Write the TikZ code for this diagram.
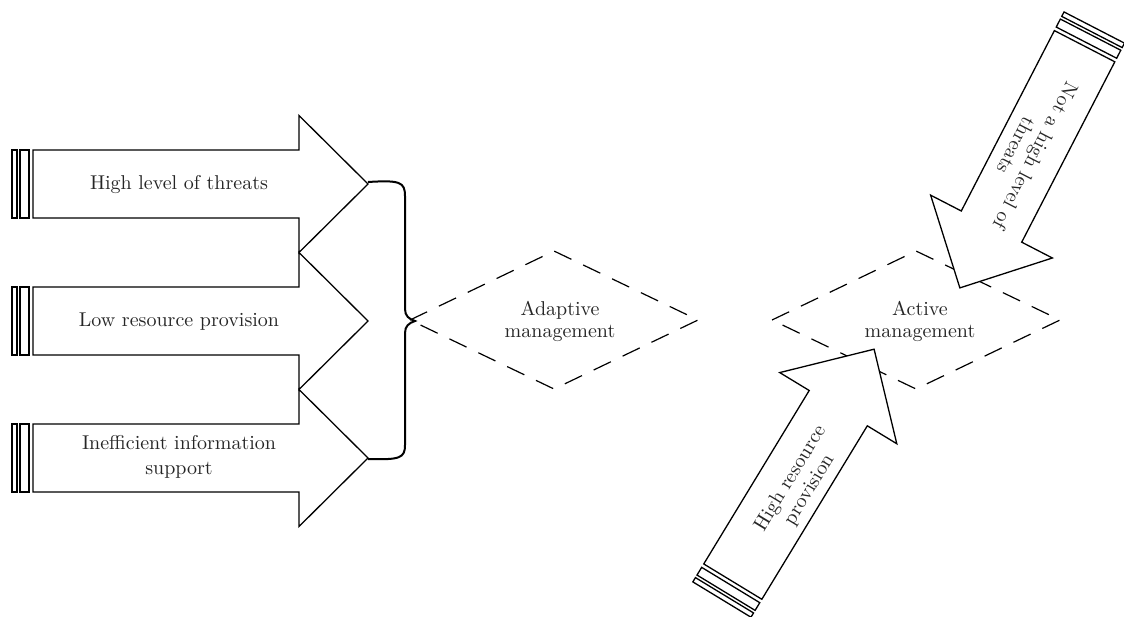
\documentclass[tikz,border=0pt]{standalone}
\begin{document}
\begin{tikzpicture}[x=0.5pt,y=-0.5pt,
  arrowline/.style={draw=black,fill=white,line width=0.65pt,line join=miter},
  dashdiamond/.style={draw=black,line width=0.6pt,dash pattern=on 9.5pt off 6.5pt},
  bracestyle/.style={draw=black,line width=1pt},
  lbl/.style={font=\fontsize{10}{11}\selectfont,align=center,text=black!85,inner sep=0pt}]
\useasboundingbox (0,0) rectangle (1124,616);
\newcommand\myblockarrow[3]{%
  \begin{scope}[shift={#1},rotate=#2]
    \filldraw[arrowline] (0,-34) -- (#3,-34) -- (#3,-68.5) -- ({#3+69},0) -- (#3,68.5) -- (#3,34) -- (0,34) -- cycle;
    \filldraw[arrowline] (-13,-34) rectangle (-4,34);
    \filldraw[arrowline] (-21,-34) rectangle (-16,34);
  \end{scope}}
% diamonds
\coordinate (d1l) at (410,320); \coordinate (d1t) at (554,251);
\coordinate (d1r) at (698,320); \coordinate (d1b) at (554,389);
\draw[dashdiamond] (d1l) -- (d1t) -- (d1r) -- (d1b) -- cycle;
\coordinate (d2l) at (772,320); \coordinate (d2t) at (916,251);
\coordinate (d2r) at (1060,320); \coordinate (d2b) at (916,389);
\draw[dashdiamond] (d2l) -- (d2t) -- (d2r) -- (d2b) -- cycle;
% left arrows
\myblockarrow{(33,184)}{0}{266}
\myblockarrow{(33,321)}{0}{266}
\myblockarrow{(33,458)}{0}{266}
% diagonal arrows
\myblockarrow{(1084.6,46.2)}{-117.3}{203}
\myblockarrow{(732.8,581.6)}{58.7}{203}
% brace
\coordinate (b1) at (368,182);
\coordinate (bc) at (415,321);
\coordinate (b3) at (368,459);
\draw[bracestyle] (b1) .. controls (400,180) and (405,182) .. (405,196) -- (405,309)
  .. controls (405,316) and (409,319) .. (bc)
  .. controls (409,323) and (405,326) .. (405,333) -- (405,445)
  .. controls (405,458) and (400,460) .. (b3);
% labels
\node[lbl] (t1) at (179,185) {High level of threats};
\node[lbl] (t2) at (179,322) {Low resource provision};
\node[lbl,font=\fontsize{10}{12.5}\selectfont] (t3) at (179,457) {Inefficient information\\support};
\node[lbl] (ad) at (560,321) {Adaptive\\management};
\node[lbl] (ac) at (920,321) {Active\\management};
\node[lbl,rotate=-117.3] (tn) at (1026,151) {Not a high level of\\threats};
\node[lbl,rotate=58.7] (tr) at (800,484) {High resource\\provision};
\end{tikzpicture}
\end{document}
